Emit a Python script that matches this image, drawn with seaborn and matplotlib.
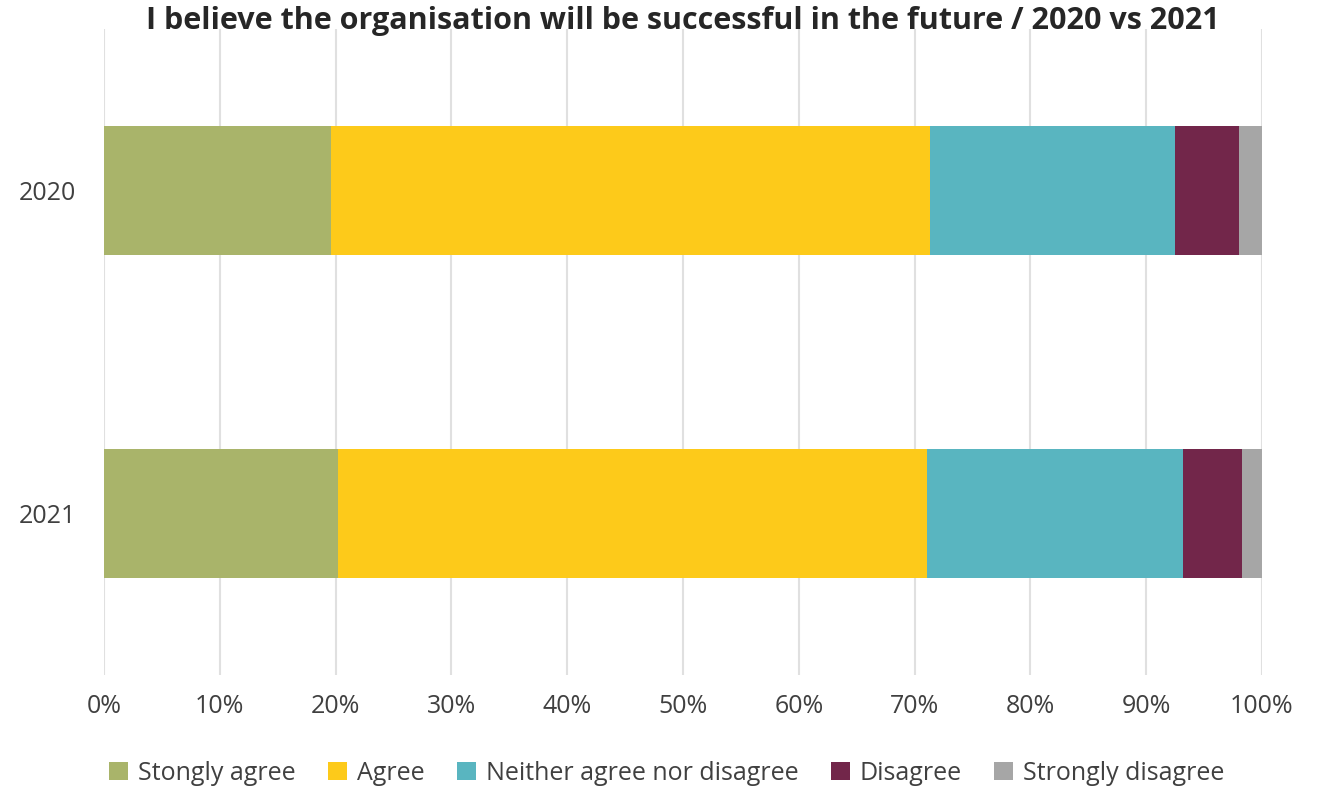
import matplotlib
matplotlib.use("Agg")
import matplotlib.pyplot as plt
import matplotlib.patches as mpatches
import numpy as np
import pandas as pd
import seaborn as sns

years = ["2020", "2021"]
categories = ["Stongly agree", "Agree", "Neither agree nor disagree", "Disagree", "Strongly disagree"]
strongly_agree = [19.6, 20.2]
agree = [51.7, 50.9]
neither = [21.2, 22.1]
disagree = [5.5, 5.1]
strongly_disagree = [2.0, 1.7]
colors = ["#A9B46A", "#FDCA1A", "#59B5C0", "#72264A", "#A6A6A6"]
x_ticks = [0, 10, 20, 30, 40, 50, 60, 70, 80, 90, 100]

sns.set_theme(style="white")
plt.rcParams["font.family"] = ["Open Sans", "DejaVu Sans"]

series = [strongly_agree, agree, neither, disagree, strongly_disagree]
df = pd.DataFrame({cat: vals for cat, vals in zip(categories, series)}, index=years)
cum = df.cumsum(axis=1)

fig = plt.figure(figsize=(13.22, 7.89), dpi=100)
ax = fig.add_axes([104 / 1322, 1 - 675 / 789, (1262 - 104) / 1322, (675 - 29) / 789])

# stacked horizontal bars: draw cumulative totals from the right-most segment backwards
for cat, col in reversed(list(zip(categories, colors))):
    sns.barplot(x=cum[cat].values, y=years, orient="h", color=col, width=0.4,
                saturation=1, ax=ax, edgecolor="none", zorder=3)

ax.set_xlim(0, 100)
ax.set_ylim(1.5, -0.5)
ax.set_xticks(x_ticks)
ax.set_xticklabels([f"{t}%" for t in x_ticks])
ax.grid(axis="x", color="#E0E0E0", linewidth=1.5, zorder=0)
ax.grid(axis="y", visible=False)
ax.set_axisbelow(True)
for s in ax.spines.values():
    s.set_visible(False)
ax.tick_params(axis="x", length=0, pad=14, labelsize=18, labelcolor="#404040")
ax.tick_params(axis="y", length=0, pad=20, labelsize=18, labelcolor="#404040")
ax.set_xlabel("")
ax.set_ylabel("")

fig.text(683 / 1322, 1 - 21 / 789, "I believe the organisation will be successful in the future / 2020 vs 2021",
         ha="center", va="center", fontsize=22, fontweight="bold", color="#262626")

handles = [mpatches.Patch(facecolor=c, edgecolor="none", label=l) for c, l in zip(colors, categories)]
fig.legend(handles=handles, loc="center", bbox_to_anchor=(667 / 1322, 1 - 773 / 789), ncol=5,
           frameon=False, fontsize=18, handlelength=0.75, handleheight=0.75, handletextpad=0.4,
           columnspacing=1.3, labelcolor="#404040")

fig.savefig("out.png", dpi=100)
